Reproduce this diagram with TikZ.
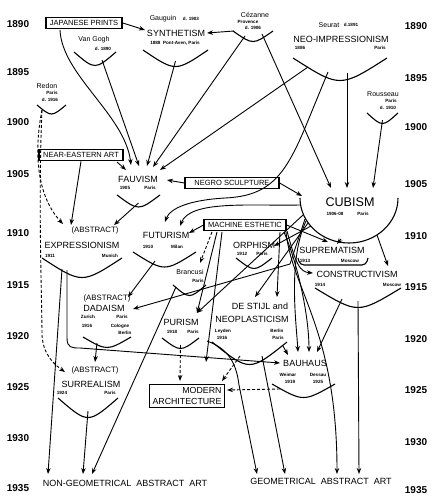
\documentclass[tikz,border=0pt]{standalone}
\usepackage{fontspec}
\setmainfont{Liberation Sans}
\usetikzlibrary{arrows.meta}

\newcommand{\bowl}[5]{% name, left x, right x, top y, depth
  \draw[bowl] (#2,#4) .. controls ({(#2+#3)/2},{#4+2*#5}) .. (#3,#4);
  \coordinate (#1) at ({(#2+#3)/2},{#4+#5});}

\begin{document}
\begin{tikzpicture}[x=1pt, y=-1pt,
    year/.style={font=\bfseries\fontsize{10}{10}\selectfont},
    movement/.style={font=\fontsize{9}{9}\selectfont, inner sep=0pt},
    artist/.style={font=\fontsize{7}{7}\selectfont, inner sep=0pt},
    tiny/.style={font=\bfseries\fontsize{4.6}{5}\selectfont, inner sep=0pt},
    source/.style={draw, line width=1.3pt, font=\fontsize{7.5}{8}\selectfont, inner xsep=4pt, inner ysep=3pt},
    bowl/.style={line width=1.1pt},
    arrow/.style={line width=0.9pt, -{Stealth[length=6pt, width=4.5pt]}},
    dasharrow/.style={arrow, dash pattern=on 3pt off 2pt}]
\useasboundingbox (0,0) rectangle (441,501);

\foreach \yr/\ly/\ry in {1890/24/26, 1895/72/78, 1900/122/127, 1905/174/184, 1910/233/236,
    1915/285/287, 1920/336/339, 1925/387/390, 1930/438/442, 1935/488/490}
  {\node[year] (l\yr) at (18,\ly) {\yr};
   \node[year] (r\yr) at (416,\ry) {\yr};}

\node[source] (japan) at (84,23) {JAPANESE PRINTS};
\node[source] (neareast) at (81,155) {NEAR-EASTERN ART};
\node[source, minimum width=94pt] (negro) at (232,183) {NEGRO SCULPTURE};
\node[source] (machine) at (245,225) {MACHINE ESTHETIC};
\node[source, align=right, font=\fontsize{8.8}{10.5}\selectfont, inner xsep=3pt] (modarch) at (187,396) {MODERN\\ARCHITECTURE};

\node[artist] (vangogh) at (94,40) {Van Gogh};
\node[tiny] (vangoghd) at (103,49) {d. 1890};
\bowl{vg}{74}{116}{52}{9}

\node[artist] (gauguin) at (163,19) {Gauguin};
\node[tiny] (gauguind) at (191,19) {d. 1903};
\node[movement] (synth) at (176,33) {SYNTHETISM};
\node[tiny] (synthd) at (175,43) {1888~~Pont-Aven, Paris};
\bowl{syn}{143}{208}{50}{11}

\node[artist] (cezanne) at (255,15) {Cézanne};
\node[tiny] (cezannep) at (248,22) {Provence};
\node[tiny] (cezanned) at (253,28) {d. 1906};
\bowl{cez}{233}{273}{31}{7}

\node[artist] (seurat) at (329,25) {Seurat};
\node[tiny] (seuratd) at (351,25) {d.1891};
\node[movement] (neo) at (341,39) {NEO-IMPRESSIONISM};
\node[tiny] (neoy) at (300,48) {1886};
\node[tiny] (neop) at (380,48) {Paris};
\bowl{neob}{293}{387}{58}{15}

\node[artist] (redon) at (47,86) {Redon};
\node[tiny] (redonp) at (52,93) {Paris};
\node[tiny] (redond) at (50,100) {d. 1916};
\bowl{red}{37}{66}{105}{6}

\node[artist] (rousseau) at (383,94) {Rousseau};
\node[tiny] (rousseaup) at (391,101) {Paris};
\node[tiny] (rousseaud) at (388,108) {d. 1910};
\bowl{rou}{367}{398}{113}{7}

\node[movement] (fauv) at (138,179) {FAUVISM};
\node[tiny] (fauvy) at (125,188) {1905};
\node[tiny] (fauvp) at (150,188) {Paris};
\bowl{fauvb}{117}{160}{195}{8}

\node[movement, font=\fontsize{12.6}{13}\selectfont] (cubism) at (350,202) {CUBISM};
\node[tiny] (cubismy) at (335,214) {1906-08};
\node[tiny] (cubismp) at (363,214) {Paris};
\draw[bowl] (300,198) arc[start angle=180, end angle=0, x radius=49, y radius=45];

\node[movement] (futur) at (166,235) {FUTURISM};
\node[tiny] (futury) at (148,247) {1910};
\node[tiny] (futurp) at (177,247) {Milan};
\bowl{fut}{133}{196}{252}{10}

\node[movement] (orph) at (254,245) {ORPHISM};
\node[tiny] (orphy) at (242,254) {1912};
\node[tiny] (orphp) at (262,254) {Paris};
\bowl{orb}{236}{272}{258}{7}

\node[artist] (brancusi) at (190,272) {Brancusi};
\node[tiny] (brancusip) at (198,281) {Paris};
\bowl{bran}{173}{206}{285}{7}

\node[movement] (suprem) at (332,250) {SUPREMATISM};
\node[tiny] (supremy) at (305,261) {1913};
\node[tiny] (supremp) at (350,261) {Moscow};
\draw[bowl, rounded corners=4pt] (298,258) -- (300,265) -- (366,265) -- (368,258);

\node[movement] (constr) at (357,274) {CONSTRUCTIVISM};
\node[tiny] (constry) at (320,285) {1914};
\node[tiny] (constrp) at (392,285) {Moscow};
\bowl{con}{315}{401}{288}{13}

\node[movement, font=\fontsize{7.8}{8}\selectfont] (expra) at (95,230) {(ABSTRACT)};
\node[movement] (expr) at (82,245) {EXPRESSIONISM};
\node[tiny] (expry) at (50,256) {1911};
\node[tiny] (exprp) at (110,256) {Munich};
\bowl{exb}{42}{122}{258}{13}

\node[movement, font=\fontsize{7.8}{8}\selectfont] (dadaa) at (107,298) {(ABSTRACT)};
\node[movement] (dada) at (104,308) {DADAISM};
\node[tiny] (dadaz) at (88,317) {Zurich};
\node[tiny] (dadap) at (122,317) {Paris};
\node[tiny] (daday) at (87,326) {1916};
\node[tiny] (dadac) at (120,326) {Cologne};
\node[tiny] (dadab) at (125,333) {Berlin};
\bowl{dab}{83}{131}{337}{7}

\node[movement, font=\fontsize{7.8}{8}\selectfont] (surra) at (95,370) {(ABSTRACT)};
\node[movement] (surr) at (91,384) {SURREALISM};
\node[tiny] (surry) at (62,393) {1924};
\node[tiny] (surrp) at (110,393) {Paris};
\bowl{sub}{58}{118}{398}{13}

\node[movement] (purism) at (181,322) {PURISM};
\node[tiny] (purismy) at (172,332) {1918};
\node[tiny] (purismp) at (193,332) {Paris};
\bowl{pub}{162}{199}{338}{7}

\node[movement] (destijl) at (260,306) {DE STIJL and};
\node[movement] (neoplast) at (252,319) {NEOPLASTICISM};
\node[tiny] (destijll) at (223,331) {Leyden};
\node[tiny] (destijly) at (222,338) {1916};
\node[tiny] (destijlb) at (277,331) {Berlin};
\node[tiny] (destijlp) at (278,338) {Paris};
\bowl{dsb}{212}{287}{342}{15}

\node[movement] (bauhaus) at (305,363) {BAUHAUS};
\node[tiny] (bauhausw) at (288,375) {Weimar};
\node[tiny] (bauhausd) at (318,375) {Dessau};
\node[tiny] (bauhausy) at (290,382) {1919};
\node[tiny] (bauhausz) at (318,382) {1925};
\bowl{bab}{272}{335}{384}{9}

\node[movement] (nongeo) at (125,483) {NON-GEOMETRICAL~ ABSTRACT~ ART};
\node[movement] (geo) at (321,481) {GEOMETRICAL~ ABSTRACT~ ART};

% 1890-1905
\draw[arrow] (japan.east) -- (145,30);
\draw[arrow] (234,31) -- (207,33);
\draw[arrow] (60,30) .. controls (62,75) and (125,115) .. (131,165);
\draw[arrow] (102,60) -- (139,166);
\draw[arrow] (syn) -- (147,166);
\draw[arrow] (245,36) -- (153,167);
\draw[arrow] (262,34) -- (331,188);
\draw[arrow] (308,67) -- (160,170);
\draw[arrow] (347,73) -- (347,188);
\draw[arrow] (rou) -- (373,188);
\draw[arrow] (328,72) -- (305,128) .. controls (285,175) and (270,196) .. (225,198) .. controls (190,200) and (170,208) .. (165,222);
\draw[dasharrow] (42,110) .. controls (34,150) and (36,195) .. (63,224);
\draw[dasharrow] (42,110) .. controls (38,200) and (42,300) .. (42,335) .. controls (43,355) and (55,365) .. (65,372);
\draw[arrow] (neareast.south) -- (71,225);
\draw[arrow] (117,162) -- (126,170);
\draw[arrow] (negro.west) -- (167,180);
\draw[arrow] (negro.east) -- (302,196);
\draw[arrow] (fauvb) -- (114,225);

% 1910-1920
\draw[arrow] (300,205) .. controls (250,206) and (190,200) .. (180,226);
\draw[arrow] (machine.west) -- (189,233);
\draw[dasharrow] (212,232) -- (200,263);
\draw[arrow] (machine.east) -- (328,242);
\draw[arrow] (341,239) -- (337,244);
\draw[arrow] (377,235) -- (388,266);
\draw[arrow] (311,226) -- (274,246);
\draw[arrow] (308,223) -- (255,297);
\draw[arrow] (305,219) -- (290,264) -- (133,309);
\draw[arrow] (303,215) -- (197,313);
\draw[arrow] (217,232) -- (197,313);
\draw[arrow] (222,232) -- (206,362);
\draw[arrow] (280,232) -- (277,297);
\draw[arrow] (306,221) .. controls (288,260) and (296,320) .. (298,352);
\draw[arrow] (284,232) .. controls (300,270) and (309,320) .. (309,352);
\draw[arrow] (287,231) .. controls (296,265) and (300,272) .. (313,273);
\draw[arrow] (286,232) .. controls (292,290) and (337,330) .. (337,474);
\draw[arrow] (155,261) -- (128,297);

% 1920-1935
\draw[arrow] (62,269) -- (48,474);
\draw[arrow] (67,270) -- (67,338) .. controls (67,348) and (72,348) .. (80,348) -- (280,363);
\draw[arrow] (97,343) -- (95,362);
\draw[arrow] (sub) -- (83,474);
\draw[arrow] (176,287) -- (92,474);
\draw[dasharrow] (pub) -- (180,381);
\draw[dasharrow] (240,356) -- (222,381);
\draw[dasharrow] (280,389) -- (227,390);
\draw[arrow] (283,346) -- (288,355);
\draw[arrow] (342,299) -- (317,352);
\draw[arrow] (con) -- (359,474);
\draw[arrow] (207,341) .. controls (226,348) and (236,360) .. (239,385) -- (257,474);
\draw[arrow] (262,356) -- (285,474);
\end{tikzpicture}
\end{document}
